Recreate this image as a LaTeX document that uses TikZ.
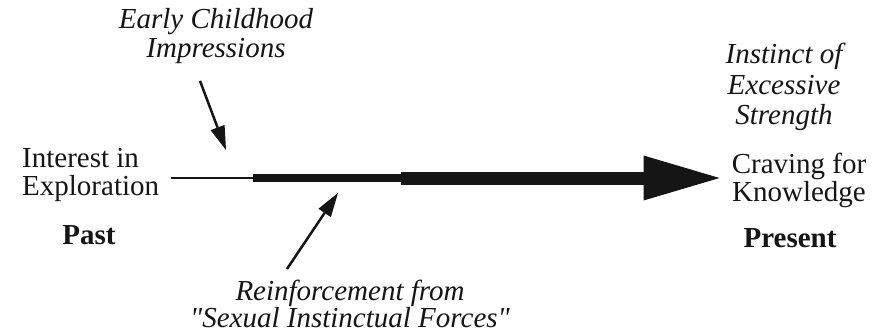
\documentclass[tikz,border=0pt]{standalone}
\usepackage{fontspec}
\setmainfont{Liberation Serif}
\usetikzlibrary{arrows.meta,positioning,calc}
\definecolor{ink}{HTML}{151515}
\tikzset{
  plaintext/.style={inner sep=0pt,text=ink,align=center,font=\fontsize{29}{28}\selectfont},
  slanted/.style={plaintext,font=\fontsize{29}{29}\selectfont\itshape},
  era/.style={plaintext,font=\fontsize{29}{28}\selectfont\bfseries},
  thinshaft/.style={draw=ink,line width=2.5pt},
  midshaft/.style={draw=ink,line width=8pt},
  fatshaft/.style={draw=ink,line width=13pt,-{Triangle[length=76pt,width=45pt,line width=0pt]}},
  pointer/.style={draw=ink,line width=2.5pt,-{Triangle[length=24pt,width=15pt,line width=0pt]}}
}

\begin{document}
\begin{tikzpicture}[x=1pt,y=-1pt]
  \useasboundingbox (0,0) rectangle (885,333);
  \node[plaintext,align=left,anchor=west] (interest) at (22,175) {Interest in\\Exploration};
  \node[era] (past) at (89,235) {Past};
  \node[plaintext] (craving) at (799,180) {Craving for\\Knowledge};
  \node[era] (present) at (790,238) {Present};
  \node[slanted] (early) at (216,36) {Early Childhood\\Impressions};
  \node[slanted,font=\fontsize{29}{30.5}\selectfont\itshape] (instinct) at (784,87) {Instinct of\\Excessive\\Strength};
  \node[slanted,font=\fontsize{29}{27}\selectfont\itshape] (reinforce) at (350,304) {Reinforcement from\\\textquotedbl Sexual Instinctual Forces\textquotedbl};

  \coordinate (narrow) at (253,178);
  \coordinate (widen) at (401,178);
  \coordinate (hitA) at (226,150);
  \coordinate (hitB) at (338,193);

  % the drive grows stronger
  \draw[thinshaft,shorten <=12pt] (interest.east |- narrow) -- (narrow);
  \draw[midshaft] (narrow) -- (widen);
  \draw[fatshaft,shorten >=12pt] (widen) -- (craving.west |- widen);

  % influences
  \draw[pointer] ([xshift=-16pt,yshift=-17pt]early.south) -- (hitA);
  \draw[pointer] ([xshift=-63pt,yshift=11pt]reinforce.north) -- (hitB);
\end{tikzpicture}
\end{document}
